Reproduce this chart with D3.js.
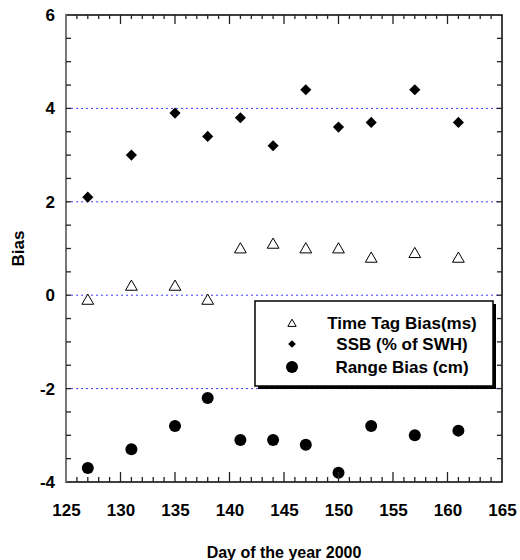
<!DOCTYPE html>
<html lang="en">
<head>
<meta charset="utf-8">
<script src="https://d3js.org/d3.v7.min.js"></script>
<style type="text/css">
body {
	margin: 0;
	background: white;
	font-family: "Liberation Sans", Arial, sans-serif;
}
.axis text {
	font-size: 17px;
	font-weight: bold;
	fill: black;
}
</style>
</head>
<body>
<script type="text/javascript">

// day of year for each measurement
var days = [127, 131, 135, 138, 141, 144, 147, 150, 153, 157, 161];

// series values
var timeTagBias = [-0.1, 0.2, 0.2, -0.1, 1.0, 1.1, 1.0, 1.0, 0.8, 0.9, 0.8];
var ssbBias     = [2.1, 3.0, 3.9, 3.4, 3.8, 3.2, 4.4, 3.6, 3.7, 4.4, 3.7];
var rangeBias   = [-3.7, -3.3, -2.8, -2.2, -3.1, -3.1, -3.2, -3.8, -2.8, -3.0, -2.9];

var legendLabels = ["Time Tag Bias(ms)", "SSB (% of SWH)", "Range Bias (cm)"];
var xTickLabels = [125, 130, 135, 140, 145, 150, 155, 160, 165];
var yTickLabels = [-4, -2, 0, 2, 4, 6];
var gridValues = [-2, 0, 2, 4];

var width = 520;
var height = 560;
var margin = {left: 66, right: 18, top: 15, bottom: 78};

var x = d3.scaleLinear()
	.domain([125, 165])
	.range([margin.left, width - margin.right]);

var y = d3.scaleLinear()
	.domain([-4, 6])
	.range([height - margin.bottom, margin.top]);

var svg = d3.select("body")
	.append("svg")
	.attr("width", width)
	.attr("height", height);

// dotted grid lines
svg.selectAll(".grid")
	.data(gridValues)
	.enter()
	.append("line")
	.attr("x1", x(125))
	.attr("x2", x(165))
	.attr("y1", function(d) { return y(d); })
	.attr("y2", function(d) { return y(d); })
	.attr("stroke", "#3a3aff")
	.attr("stroke-width", 1)
	.attr("stroke-dasharray", "2,3");

var minorX = d3.range(126, 165, 1);
var minorY = d3.range(-3.5, 6, 0.5);

function isMajorX(d) { return d % 5 === 0; }

// axis labels
svg.append("g")
	.attr("class", "axis")
	.attr("transform", "translate(0," + y(-4) + ")")
	.call(d3.axisBottom(x).tickValues(xTickLabels).tickSize(0).tickPadding(22)
		.tickFormat(function(d) { return String(d); }))
	.call(function(g) { g.select(".domain").remove(); });

svg.append("g")
	.attr("class", "axis")
	.attr("transform", "translate(" + x(125) + ",0)")
	.call(d3.axisLeft(y).tickValues(yTickLabels).tickSize(0).tickPadding(11)
		.tickFormat(function(d) { return String(d); }))
	.call(function(g) { g.select(".domain").remove(); });

// frame
svg.append("rect")
	.attr("x", x(125)).attr("y", y(6))
	.attr("width", x(165) - x(125)).attr("height", y(-4) - y(6))
	.attr("fill", "none")
	.attr("stroke", "black").attr("stroke-width", 1.5);
svg.append("line")
	.attr("x1", x(125)).attr("x2", x(125))
	.attr("y1", y(6)).attr("y2", y(-4))
	.attr("stroke", "#777").attr("stroke-width", 2);

var triangle = d3.symbol().type(d3.symbolTriangle).size(60);
var diamond = d3.symbol().type(d3.symbolSquare).size(62);

// time tag bias: open triangles
svg.selectAll(".tri")
	.data(days)
	.enter()
	.append("path")
	.attr("d", triangle)
	.attr("transform", function(d, i) { return "translate(" + x(d) + "," + (y(timeTagBias[i]) + 1) + ")"; })
	.attr("fill", "white")
	.attr("stroke", "black")
	.attr("stroke-width", 1);

// SSB: filled diamonds
svg.selectAll(".dia")
	.data(days)
	.enter()
	.append("path")
	.attr("d", diamond)
	.attr("transform", function(d, i) { return "translate(" + x(d) + "," + y(ssbBias[i]) + ") rotate(45)"; })
	.attr("fill", "black");

// range bias: filled circles
svg.selectAll(".dot")
	.data(days)
	.enter()
	.append("circle")
	.attr("cx", function(d) { return x(d); })
	.attr("cy", function(d, i) { return y(rangeBias[i]); })
	.attr("r", 6)
	.attr("fill", "black");

// tick marks pointing into the plot
var tickG = svg.append("g")
	.attr("stroke", "#222")
	.attr("stroke-width", 1.3);

tickG.selectAll(".xb")
	.data(minorX)
	.enter()
	.append("line")
	.attr("x1", function(d) { return x(d); })
	.attr("x2", function(d) { return x(d); })
	.attr("y1", y(-4))
	.attr("y2", function(d) { return y(-4) - (isMajorX(d) ? 10 : 5); });

tickG.selectAll(".xt")
	.data(minorX)
	.enter()
	.append("line")
	.attr("x1", function(d) { return x(d); })
	.attr("x2", function(d) { return x(d); })
	.attr("y1", y(6))
	.attr("y2", function(d) { return y(6) + (isMajorX(d) ? 9 : 4); });

tickG.selectAll(".yl")
	.data(minorY)
	.enter()
	.append("line")
	.attr("x1", x(125))
	.attr("x2", x(125) + 5)
	.attr("y1", function(d) { return y(d); })
	.attr("y2", function(d) { return y(d); });

tickG.selectAll(".yr")
	.data(minorY)
	.enter()
	.append("line")
	.attr("x1", x(165))
	.attr("x2", x(165) - 5)
	.attr("y1", function(d) { return y(d); })
	.attr("y2", function(d) { return y(d); });

// axis titles
svg.append("text")
	.attr("x", 284)
	.attr("y", 558)
	.attr("text-anchor", "middle")
	.style("font-size", "16px")
	.style("font-weight", "bold")
	.text("Day of the year 2000");

svg.append("text")
	.attr("transform", "translate(24," + y(1) + ") rotate(-90)")
	.attr("text-anchor", "middle")
	.style("font-size", "17px")
	.style("font-weight", "bold")
	.text("Bias");

// legend with drop shadow
var legend = svg.append("g");
legend.append("rect")
	.attr("x", 258).attr("y", 304)
	.attr("width", 238).attr("height", 85)
	.attr("fill", "black");
legend.append("rect")
	.attr("x", 255).attr("y", 301)
	.attr("width", 238).attr("height", 85)
	.attr("fill", "white")
	.attr("stroke", "black")
	.attr("stroke-width", 1.5);

var rowY = [323, 344, 367];

legend.append("path")
	.attr("d", d3.symbol().type(d3.symbolTriangle).size(30))
	.attr("transform", "translate(292," + (rowY[0] + 1) + ")")
	.attr("fill", "white").attr("stroke", "black");
legend.append("path")
	.attr("d", d3.symbol().type(d3.symbolSquare).size(30))
	.attr("transform", "translate(292," + rowY[1] + ") rotate(45)")
	.attr("fill", "black");
legend.append("circle")
	.attr("cx", 292).attr("cy", rowY[2]).attr("r", 6)
	.attr("fill", "black");

legend.selectAll(".ltext")
	.data(legendLabels)
	.enter()
	.append("text")
	.attr("x", 402)
	.attr("y", function(d, i) { return rowY[i] + 6; })
	.attr("text-anchor", "middle")
	.style("font-size", "17px")
	.style("font-weight", "bold")
	.text(function(d) { return d; });

</script>
</body>
</html>
